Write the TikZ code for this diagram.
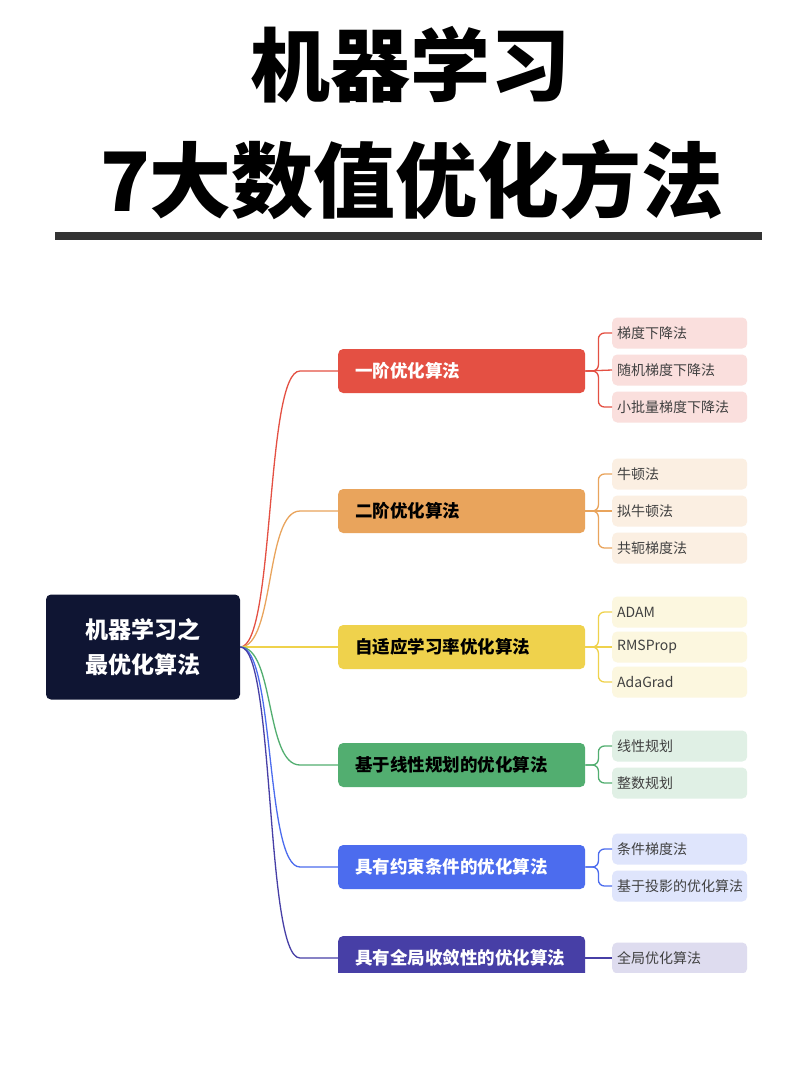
\documentclass[tikz,border=0pt]{standalone}
\usepackage{fontspec}
\setmainfont{Noto Sans CJK SC}
\setsansfont{Noto Sans CJK SC}
\begin{document}
\begin{tikzpicture}[x=1pt,y=-1pt,
  br/.style={rounded corners=5pt,minimum width=247pt,minimum height=44pt,inner xsep=17pt,text width=213pt,align=left,font=\fontsize{17.5}{19}\selectfont\bfseries,anchor=west},
  lf/.style={rounded corners=5pt,minimum width=135pt,minimum height=31pt,inner xsep=5pt,text width=125pt,align=left,font=\fontsize{14}{15}\selectfont,text=black!75,anchor=west},
  cn/.style={line width=1.3pt,rounded corners=6pt}]
\useasboundingbox (0,0) rectangle (800,1069);
\fill[white] (0,0) rectangle (800,1069);
\definecolor{cA}{HTML}{E45043}\definecolor{cB}{HTML}{E9A45C}\definecolor{cC}{HTML}{EFD24C}
\definecolor{cD}{HTML}{52AE70}\definecolor{cE}{HTML}{4C6CEE}\definecolor{cF}{HTML}{473FA6}
\definecolor{root}{HTML}{0F1533}
\node[font=\fontsize{80}{90}\selectfont\bfseries] (t1) at (410,65) {机器学习};
\node[font=\fontsize{82}{90}\selectfont\bfseries] (t2) at (412,180) {7大数值优化方法};
\fill[black!80] (55,232) rectangle (762,240);
\begin{scope}
\clip (0,0) rectangle (800,972);
\node[fill=root,rounded corners=5pt,minimum width=194pt,minimum height=105pt,text=white,align=center,font=\fontsize{23}{35}\selectfont\bfseries] (r) at (143,647) {机器学习之\\最优化算法};
\foreach \n/\y/\c/\t/\tc in {a/371/cA/一阶优化算法/white,b/511/cB/二阶优化算法/black,c/647/cC/自适应学习率优化算法/black,d/765/cD/基于线性规划的优化算法/black,e/867/cE/具有约束条件的优化算法/white,f/958/cF/具有全局收敛性的优化算法/white}{
  \node[br,fill=\c,text=\tc] (\n) at (338,\y) {\t};
  \draw[cn,\c,rounded corners=0pt] (r.east) .. controls (275,647) and (265,\y) .. (300,\y) -- (\n.west);
}
\foreach \p/\n/\y/\c/\t/\m in {a/a1/333/cA/梯度下降法/0,a/a2/370/cA/随机梯度下降法/1,a/a3/407/cA/小批量梯度下降法/0,
 b/b1/474/cB/牛顿法/0,b/b2/511/cB/拟牛顿法/1,b/b3/548/cB/共轭梯度法/0,
 c/c1/612/cC/ADAM/0,c/c2/647/cC/RMSProp/1,c/c3/682/cC/AdaGrad/0,
 d/d1/746/cD/线性规划/0,d/d2/783/cD/整数规划/0,
 e/e1/849/cE/条件梯度法/0,e/e2/886/cE/基于投影的优化算法/0,
 f/f1/958/cF/全局优化算法/1}{
  \node[lf,fill=\c!18] (\n) at (612,\y) {\t};
  \ifnum\m=1
    \draw[cn,\c] (\p.east) -- (\n.west);
  \else
    \draw[cn,\c] (\p.east) -- ++(13,0) |- (\n.west);
  \fi
}
\end{scope}
\end{tikzpicture}
\end{document}
